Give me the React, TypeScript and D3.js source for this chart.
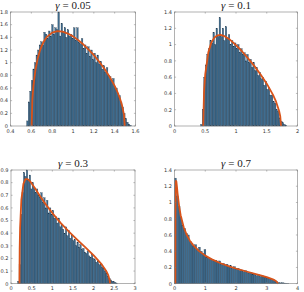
import React from "react";
import * as d3 from "d3";

// gamma labels for the four panels
const gammas = ["0.05", "0.1", "0.3", "0.7"];

// histogram bins: first left edge, bin width, densities
const binStart1 = 0.555;
const binWidth1 = 0.015;
const density1 = [
  0.08, 0.38, 0.55, 0.72, 0.9, 1.0, 1.12, 1.2, 1.28, 1.33, 1.28, 1.48, 1.45,
  1.38, 1.5, 1.42, 1.6, 1.45, 1.55, 1.52, 1.8, 1.42, 1.62, 1.48, 1.55, 1.4,
  1.52, 1.42, 1.45, 1.38, 1.55, 1.35, 1.55, 1.32, 1.3, 1.38, 1.22, 1.28, 1.15,
  1.25, 1.1, 1.2, 1.05, 1.15, 1.0, 1.12, 0.98, 1.02, 0.9, 0.95, 0.85, 0.92,
  0.8, 0.78, 0.72, 0.75, 0.62, 0.6, 0.52, 0.48, 0.38, 0.3, 0.2, 0.12, 0.06,
  0.03, 0.01,
];

const binStart2 = 0.425;
const binWidth2 = 0.025;
const density2 = [
  0.02, 0.2, 0.6, 0.75, 0.88, 0.95, 1.05, 1.02, 1.15, 1.0, 1.2, 1.1, 1.33, 1.1,
  1.2, 1.05, 1.22, 1.08, 1.12, 1.0, 1.05, 0.98, 1.02, 0.95, 1.0, 0.9, 0.95,
  0.88, 0.9, 0.8, 0.88, 0.78, 0.82, 0.72, 0.78, 0.68, 0.72, 0.62, 0.66, 0.58,
  0.6, 0.5, 0.55, 0.45, 0.47, 0.38, 0.38, 0.3, 0.28, 0.2, 0.18, 0.1, 0.06,
  0.04, 0.02, 0.01,
];

const binStart3 = 0.16;
const binWidth3 = 0.035;
const density3 = [
  0.02, 0.15, 0.55, 0.72, 0.88, 0.85, 0.9, 0.82, 0.86, 0.75, 0.8, 0.76, 0.72,
  0.75, 0.7, 0.68, 0.72, 0.64, 0.68, 0.6, 0.66, 0.56, 0.6, 0.55, 0.58, 0.52,
  0.53, 0.48, 0.52, 0.45, 0.47, 0.43, 0.4, 0.45, 0.38, 0.42, 0.36, 0.38, 0.34,
  0.35, 0.3, 0.33, 0.29, 0.31, 0.27, 0.28, 0.25, 0.24, 0.26, 0.22, 0.21, 0.23,
  0.2, 0.19, 0.17, 0.18, 0.15, 0.15, 0.13, 0.12, 0.1, 0.08, 0.06, 0.04, 0.03,
  0.02, 0.015, 0.01, 0.005,
];

const binStart4 = 0.0;
const binWidth4 = 0.06;
const density4 = [
  1.3, 1.08, 0.95, 0.82, 0.72, 0.68, 0.62, 0.6, 0.52, 0.5, 0.46, 0.48, 0.42,
  0.45, 0.4, 0.37, 0.42, 0.33, 0.32, 0.31, 0.3, 0.28, 0.29, 0.26, 0.28, 0.24,
  0.25, 0.23, 0.24, 0.21, 0.22, 0.19, 0.21, 0.18, 0.19, 0.16, 0.17, 0.15, 0.16,
  0.14, 0.13, 0.14, 0.12, 0.12, 0.1, 0.11, 0.09, 0.1, 0.08, 0.08, 0.07, 0.06,
  0.055, 0.05, 0.035, 0.025, 0.015, 0.01, 0.012, 0.008, 0.005, 0.003,
];

// orange curves, points
const curveX1 = [0.603, 0.61, 0.62, 0.64, 0.66, 0.68, 0.7, 0.72, 0.75, 0.8, 0.85, 0.9, 0.95, 1.0, 1.05, 1.1, 1.15, 1.2, 1.25, 1.3, 1.35, 1.4, 1.43, 1.45, 1.47, 1.49, 1.497];
const curveY1 = [0, 0.417, 0.631, 0.888, 1.055, 1.176, 1.266, 1.334, 1.408, 1.475, 1.498, 1.49, 1.46, 1.415, 1.356, 1.286, 1.206, 1.118, 1.019, 0.908, 0.782, 0.633, 0.525, 0.439, 0.333, 0.171, 0];

const curveX2 = [0.4675, 0.48, 0.5, 0.55, 0.6, 0.65, 0.7, 0.75, 0.8, 0.9, 1.0, 1.1, 1.2, 1.3, 1.4, 1.5, 1.6, 1.65, 1.7, 1.72, 1.7325];
const curveY2 = [0, 0.415, 0.637, 0.904, 1.027, 1.088, 1.114, 1.118, 1.108, 1.061, 0.994, 0.915, 0.828, 0.735, 0.633, 0.52, 0.385, 0.301, 0.187, 0.116, 0];

const curveX3 = [0.2046, 0.21, 0.22, 0.25, 0.3, 0.35, 0.4, 0.45, 0.5, 0.6, 0.7, 0.8, 1.0, 1.2, 1.4, 1.6, 1.8, 2.0, 2.2, 2.3, 2.35, 2.39, 2.3954];
const curveY3 = [0, 0.274, 0.441, 0.662, 0.791, 0.827, 0.828, 0.815, 0.794, 0.745, 0.695, 0.646, 0.559, 0.482, 0.413, 0.349, 0.287, 0.2235, 0.1506, 0.103, 0.0705, 0.024, 0];

const curveX4 = [0.0267, 0.03, 0.04, 0.05, 0.06, 0.08, 0.1, 0.15, 0.2, 0.3, 0.4, 0.5, 0.6, 0.8, 1.0, 1.2, 1.5, 1.8, 2.0, 2.4, 2.8, 3.0, 3.2, 3.3, 3.3735];
const curveY4 = [0, 0.799, 1.198, 1.266, 1.259, 1.191, 1.114, 0.956, 0.843, 0.695, 0.599, 0.53, 0.478, 0.401, 0.3456, 0.3026, 0.2518, 0.211, 0.1872, 0.144, 0.1024, 0.0799, 0.0527, 0.0338, 0];

// axis ticks
const xTicks1 = [0.4, 0.6, 0.8, 1, 1.2, 1.4, 1.6];
const yTicks1 = [0, 0.2, 0.4, 0.6, 0.8, 1, 1.2, 1.4, 1.6, 1.8];
const xTicks2 = [0, 0.5, 1, 1.5, 2];
const yTicks2 = [0, 0.2, 0.4, 0.6, 0.8, 1, 1.2, 1.4];
const xTicks3 = [0, 0.5, 1, 1.5, 2, 2.5, 3];
const yTicks3 = [0, 0.1, 0.2, 0.3, 0.4, 0.5, 0.6, 0.7, 0.8, 0.9];
const xTicks4 = [0, 1, 2, 3, 4];
const yTicks4 = [0, 0.2, 0.4, 0.6, 0.8, 1, 1.2, 1.4];

const fmt = (v: number) => String(+v.toFixed(2));

type PanelProps = {
  gamma: string;
  box: [number, number, number, number];
  binStart: number;
  binWidth: number;
  density: number[];
  curveX: number[];
  curveY: number[];
  xTicks: number[];
  yTicks: number[];
};

function Panel(p: PanelProps) {
  const [x0, x1, y0, y1] = p.box;
  const x = d3
    .scaleLinear()
    .domain([p.xTicks[0], p.xTicks[p.xTicks.length - 1]])
    .range([x0, x1]);
  const y = d3
    .scaleLinear()
    .domain([p.yTicks[0], p.yTicks[p.yTicks.length - 1]])
    .range([y1, y0]);

  const line = d3
    .line<number>()
    .x((d) => x(d))
    .y((_, i) => y(p.curveY[i]));

  const tick = 1.6;
  const axisColor = "#7d7d7d";

  return (
    <g>
      <text
        x={(x0 + x1) / 2}
        y={y0 - 3.5}
        textAnchor="middle"
        fontFamily="'Liberation Serif', serif"
        fontSize={11}
        fill="#222"
      >
        <tspan fontStyle="italic">γ</tspan>
        <tspan> = {p.gamma}</tspan>
      </text>
      {p.density.map((v, i) => {
        const l = x(p.binStart + i * p.binWidth);
        const r = x(p.binStart + (i + 1) * p.binWidth);
        return (
          <rect
            key={i}
            x={l}
            y={y(v)}
            width={r - l}
            height={y(0) - y(v)}
            fill="#3f6d90"
            stroke="#1e3447"
            strokeWidth={0.3}
          />
        );
      })}
      <path
        d={line(p.curveX) ?? ""}
        fill="none"
        stroke="#d95319"
        strokeWidth={1.8}
        strokeLinejoin="round"
      />
      <rect
        x={x0}
        y={y0}
        width={x1 - x0}
        height={y1 - y0}
        fill="none"
        stroke={axisColor}
        strokeWidth={0.6}
      />
      {p.xTicks.map((t) => (
        <g key={"x" + t}>
          <line x1={x(t)} x2={x(t)} y1={y1} y2={y1 - tick} stroke={axisColor} strokeWidth={0.5} />
          <line x1={x(t)} x2={x(t)} y1={y0} y2={y0 + tick} stroke={axisColor} strokeWidth={0.5} />
          <text
            x={x(t)}
            y={y1 + 6.5}
            textAnchor="middle"
            fontFamily="'DejaVu Sans', sans-serif"
            fontSize={5}
            fill="#333"
          >
            {fmt(t)}
          </text>
        </g>
      ))}
      {p.yTicks.map((t) => (
        <g key={"y" + t}>
          <line x1={x0} x2={x0 + tick} y1={y(t)} y2={y(t)} stroke={axisColor} strokeWidth={0.5} />
          <line x1={x1} x2={x1 - tick} y1={y(t)} y2={y(t)} stroke={axisColor} strokeWidth={0.5} />
          <text
            x={x0 - 2.5}
            y={y(t) + 1.8}
            textAnchor="end"
            fontFamily="'DejaVu Sans', sans-serif"
            fontSize={5}
            fill="#333"
          >
            {fmt(t)}
          </text>
        </g>
      ))}
    </g>
  );
}

export default function App() {
  return (
    <svg
      width={304}
      height={292}
      style={{ position: "absolute", left: 0, top: 0, background: "#fff" }}
    >
      <Panel
        gamma={gammas[0]}
        box={[10.5, 135.5, 12, 126]}
        binStart={binStart1}
        binWidth={binWidth1}
        density={density1}
        curveX={curveX1}
        curveY={curveY1}
        xTicks={xTicks1}
        yTicks={yTicks1}
      />
      <Panel
        gamma={gammas[1]}
        box={[174.5, 297.5, 12, 126]}
        binStart={binStart2}
        binWidth={binWidth2}
        density={density2}
        curveX={curveX2}
        curveY={curveY2}
        xTicks={xTicks2}
        yTicks={yTicks2}
      />
      <Panel
        gamma={gammas[2]}
        box={[11, 135, 170, 283.7]}
        binStart={binStart3}
        binWidth={binWidth3}
        density={density3}
        curveX={curveX3}
        curveY={curveY3}
        xTicks={xTicks3}
        yTicks={yTicks3}
      />
      <Panel
        gamma={gammas[3]}
        box={[174.5, 297.5, 170, 283.7]}
        binStart={binStart4}
        binWidth={binWidth4}
        density={density4}
        curveX={curveX4}
        curveY={curveY4}
        xTicks={xTicks4}
        yTicks={yTicks4}
      />
    </svg>
  );
}
